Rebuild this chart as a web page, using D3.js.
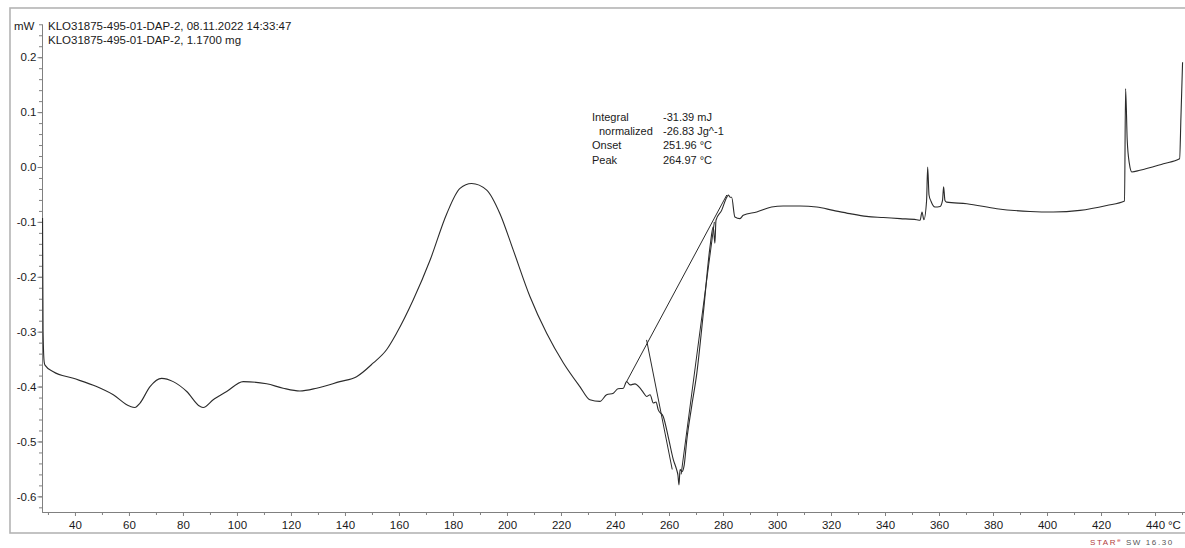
<!DOCTYPE html>
<html>
<head>
<meta charset="utf-8">
<script src="https://cdn.jsdelivr.net/npm/d3@7"></script>
<style>
  body { margin: 0; background: #fff; }
  svg { display: block; font-family: "Liberation Sans", Arial, sans-serif; }
</style>
</head>
<body>
<svg id="chart" width="1185" height="548"></svg>
<script>
// DSC heating curve: temperature (°C) and heat flow (mW)
const temperature = [
  28.0, 28.2, 28.6, 28.9, 32.0, 39.4, 48.0, 54.2, 60.4, 62.2, 64.1, 67.8, 72.1, 76.4, 81.4,
  86.3, 87.5, 91.2, 96.2, 102.3, 111.0, 117.1, 123.3, 129.5, 138.1, 144.3, 150.5, 155.4,
  159.1, 165.3, 171.5, 177.7, 182.6, 186.9, 192.5, 197.4, 202.3, 208.5, 214.7, 220.9,
  227.0, 230.7, 234.4, 236.9, 239.4, 241.1, 243.1, 244.3, 245.6, 247.4, 249.3, 250.4,
  251.7, 253.0, 254.2, 255.2, 256.0, 257.9, 259.7, 261.6, 262.8, 263.3, 263.7, 264.1,
  264.8, 265.6, 266.6, 268.4, 270.3, 272.7, 275.2, 276.4, 277.0, 277.4, 279.5, 281.4,
  282.0, 282.6, 283.2, 284.4, 286.3, 287.5, 292.5, 298.0, 302.3, 308.5, 314.7, 320.8,
  327.0, 333.2, 339.4, 345.6, 351.7, 353.0, 353.7, 354.4, 355.4, 355.8, 356.3, 357.0,
  358.5, 360.4, 361.3, 361.7, 362.2, 362.8, 370.3, 381.4, 393.7, 402.3, 412.2, 422.1,
  428.7, 429.1, 429.7, 430.5, 431.4, 434.4, 443.1, 449.1, 449.6, 450.2
];
const heatFlow = [
  -0.093, -0.300, -0.355, -0.361, -0.373, -0.385, -0.400, -0.415, -0.436, -0.438, -0.430,
  -0.400, -0.385, -0.391, -0.409, -0.436, -0.438, -0.424, -0.409, -0.391, -0.395, -0.403,
  -0.408, -0.403, -0.391, -0.382, -0.357, -0.333, -0.303, -0.242, -0.170, -0.085, -0.039,
  -0.030, -0.042, -0.085, -0.151, -0.236, -0.303, -0.357, -0.400, -0.424, -0.427, -0.415,
  -0.412, -0.404, -0.403, -0.391, -0.397, -0.395, -0.403, -0.410, -0.418, -0.415, -0.430,
  -0.428, -0.442, -0.455, -0.491, -0.533, -0.551, -0.561, -0.579, -0.551, -0.555, -0.544,
  -0.497, -0.436, -0.376, -0.267, -0.145, -0.109, -0.139, -0.097, -0.079, -0.055, -0.051,
  -0.055, -0.055, -0.091, -0.094, -0.088, -0.082, -0.073, -0.071, -0.071, -0.073, -0.079,
  -0.085, -0.090, -0.092, -0.094, -0.096, -0.097, -0.082, -0.096, -0.061, 0.000, -0.051,
  -0.062, -0.073, -0.072, -0.061, -0.036, -0.061, -0.064, -0.067, -0.076, -0.081, -0.082,
  -0.079, -0.070, -0.062, 0.143, 0.049, 0.006, -0.009, -0.006, 0.006, 0.015, 0.091, 0.191
];

// Peak evaluation construction lines: [temperature, heat flow] end points
const integrationBaseline = [[244.3, -0.391], [281.4, -0.051]];
const onsetTangent = [[251.7, -0.315], [261.2, -0.551]];
const returnTangent = [[264.5, -0.560], [276.8, -0.100]];

// Evaluation results
const evalLabels = ["Integral", "normalized", "Onset", "Peak"];
const evalValues = ["-31.39 mJ", "-26.83 Jg^-1", "251.96 °C", "264.97 °C"];

// Axis ticks
const xMajorTicks = [40, 60, 80, 100, 120, 140, 160, 180, 200, 220, 240, 260, 280, 300, 320, 340, 360, 380, 400, 420, 440];
const xMinorTicks = [30, 50, 70, 90, 110, 130, 150, 170, 190, 210, 230, 250, 270, 290, 310, 330, 350, 370, 390, 410, 430, 450];
const yMajorTicks = [-0.6, -0.5, -0.4, -0.3, -0.2, -0.1, 0.0, 0.1, 0.2];
const yMinorTicks = d3.range(-31, 14).map(i => +(i * 0.02).toFixed(2));

// Header lines
const headerLines = ["KLO31875-495-01-DAP-2, 08.11.2022 14:33:47", "KLO31875-495-01-DAP-2, 1.1700 mg"];

const svg = d3.select("#chart");
const axisColor = "#808080";
const textColor = "#1a1a1a";
const fontSize = "11.5px";

// Outer frame
svg.append("rect")
  .attr("x", 10).attr("y", 8).attr("width", 1200).attr("height", 525)
  .attr("fill", "none").attr("stroke", "#b4b4b4").attr("stroke-width", 1.6);

const x = d3.scaleLinear().domain([27.8, 451.1]).range([42, 1185]);
const y = d3.scaleLinear().domain([-0.6285, 0.2605]).range([512, 24]);

// X axis
const xAxisG = svg.append("g").attr("transform", `translate(0,${y(-0.6285)})`);
xAxisG.call(d3.axisBottom(x).tickValues(xMinorTicks).tickSize(3).tickSizeOuter(0).tickFormat(""));
const xMajor = svg.append("g").attr("transform", `translate(0,${y(-0.6285)})`)
  .call(d3.axisBottom(x).tickValues(xMajorTicks).tickSize(4).tickSizeOuter(0).tickPadding(5).tickFormat(d => d));
[xAxisG, xMajor].forEach(g => {
  g.selectAll("path.domain").attr("stroke", axisColor);
  g.selectAll("line").attr("stroke", axisColor);
});
xMajor.selectAll("text").attr("fill", textColor).style("font-size", fontSize).style("font-family", "Liberation Sans, Arial, sans-serif");
svg.append("text")
  .attr("x", x(440) + 13).attr("y", y(-0.6285) + 9).attr("dy", "0.71em")
  .attr("fill", textColor).style("font-size", fontSize)
  .text("°C");

// Y axis
const yMinor = svg.append("g").attr("transform", `translate(${x(27.8)},0)`)
  .call(d3.axisLeft(y).tickValues(yMinorTicks).tickSize(3).tickSizeOuter(0).tickFormat(""));
const yMajor = svg.append("g").attr("transform", `translate(${x(27.8)},0)`)
  .call(d3.axisLeft(y).tickValues(yMajorTicks).tickSize(4.5).tickSizeOuter(0).tickPadding(1).tickFormat(d => d.toFixed(1)));
[yMinor, yMajor].forEach(g => {
  g.selectAll("path.domain").attr("stroke", axisColor);
  g.selectAll("line").attr("stroke", axisColor);
});
yMajor.selectAll("text").attr("fill", textColor).style("font-size", fontSize).style("font-family", "Liberation Sans, Arial, sans-serif");

// Unit and header
svg.append("text").attr("x", 14).attr("y", 29.5).attr("fill", textColor).style("font-size", fontSize).text("mW");
svg.selectAll("text.header").data(headerLines).join("text")
  .attr("class", "header")
  .attr("x", 48).attr("y", (d, i) => 29.5 + i * 14.5)
  .attr("fill", textColor).style("font-size", fontSize)
  .text(d => d);

// Heat flow curve (smoothed without overshoot)
const points = temperature.map((t, i) => [t, heatFlow[i]]);
const curveLine = d3.line().x(d => x(d[0])).y(d => y(d[1])).curve(d3.curveMonotoneX);
svg.append("path")
  .datum(points)
  .attr("d", curveLine)
  .attr("fill", "none").attr("stroke", "#2b2b2b").attr("stroke-width", 1.1)
  .attr("stroke-linejoin", "round");

// Evaluation construction lines
const straight = d3.line().x(d => x(d[0])).y(d => y(d[1]));
[integrationBaseline, onsetTangent, returnTangent].forEach(seg => {
  svg.append("path").datum(seg).attr("d", straight)
    .attr("fill", "none").attr("stroke", "#2b2b2b").attr("stroke-width", 1);
});

// Evaluation text block
const evalG = svg.append("g").style("font-size", "11px").attr("fill", textColor);
evalG.selectAll("text.lab").data(evalLabels).join("text")
  .attr("class", "lab")
  .attr("x", (d, i) => i === 1 ? 599 : 592)
  .attr("y", (d, i) => 120.5 + i * 14.4)
  .text(d => d);
evalG.selectAll("text.val").data(evalValues).join("text")
  .attr("class", "val")
  .attr("x", 663)
  .attr("y", (d, i) => 120.5 + i * 14.4)
  .text(d => d);

// Software stamp
const stamp = svg.append("text").attr("x", 1090).attr("y", 545)
  .style("font-size", "8px").style("letter-spacing", "1.6px");
stamp.append("tspan").attr("fill", "#b23c3c").text("STAR");
stamp.append("tspan").attr("fill", "#d04848").attr("dy", -3).style("font-size", "6px").text("e");
stamp.append("tspan").attr("fill", "#555").attr("dy", 3).text(" SW 16.30");
</script>
</body>
</html>
